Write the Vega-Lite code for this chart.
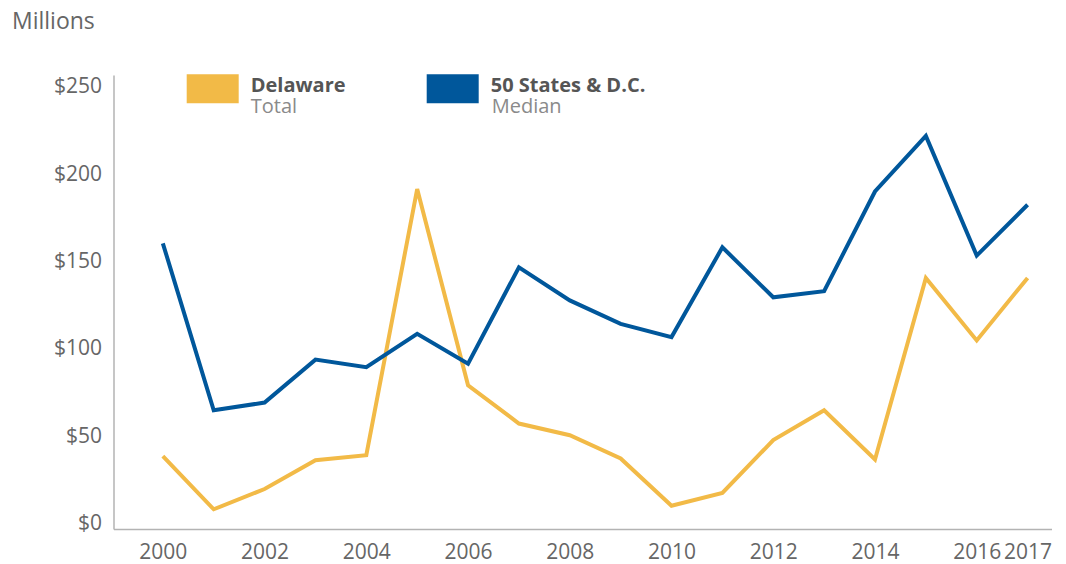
{
  "$schema": "https://vega.github.io/schema/vega-lite/v6.json",
  "width": 938,
  "height": 454,
  "autosize": "none",
  "padding": {"left": 113.5, "top": 75, "right": 14.5, "bottom": 35},
  "background": "white",
  "config": {
    "view": {"stroke": null},
    "font": "Open Sans",
    "axis": {
      "domainColor": "#b3b3b3",
      "domainWidth": 1.5,
      "labelColor": "#666666",
      "labelFont": "Open Sans",
      "labelFontSize": 21,
      "ticks": false,
      "tickSize": 0,
      "grid": false,
      "labelFlush": false,
      "labelOverlap": false
    }
  },
  "data": {
    "values": [
      {"year": 2000, "series": "Delaware", "sub": "Total", "value": 41.7},
      {"year": 2001, "series": "Delaware", "sub": "Total", "value": 11.3},
      {"year": 2002, "series": "Delaware", "sub": "Total", "value": 22.9},
      {"year": 2003, "series": "Delaware", "sub": "Total", "value": 39.4},
      {"year": 2004, "series": "Delaware", "sub": "Total", "value": 42.3},
      {"year": 2005, "series": "Delaware", "sub": "Total", "value": 194.7},
      {"year": 2006, "series": "Delaware", "sub": "Total", "value": 82.3},
      {"year": 2007, "series": "Delaware", "sub": "Total", "value": 60.4},
      {"year": 2008, "series": "Delaware", "sub": "Total", "value": 53.7},
      {"year": 2009, "series": "Delaware", "sub": "Total", "value": 40.4},
      {"year": 2010, "series": "Delaware", "sub": "Total", "value": 13.3},
      {"year": 2011, "series": "Delaware", "sub": "Total", "value": 20.7},
      {"year": 2012, "series": "Delaware", "sub": "Total", "value": 50.9},
      {"year": 2013, "series": "Delaware", "sub": "Total", "value": 68.0},
      {"year": 2014, "series": "Delaware", "sub": "Total", "value": 39.8},
      {"year": 2015, "series": "Delaware", "sub": "Total", "value": 143.8},
      {"year": 2016, "series": "Delaware", "sub": "Total", "value": 108.0},
      {"year": 2017, "series": "Delaware", "sub": "Total", "value": 143.8},
      {"year": 2000, "series": "50 States & D.C.", "sub": "Median", "value": 163.6},
      {"year": 2001, "series": "50 States & D.C.", "sub": "Median", "value": 68.0},
      {"year": 2002, "series": "50 States & D.C.", "sub": "Median", "value": 72.4},
      {"year": 2003, "series": "50 States & D.C.", "sub": "Median", "value": 97.0},
      {"year": 2004, "series": "50 States & D.C.", "sub": "Median", "value": 92.7},
      {"year": 2005, "series": "50 States & D.C.", "sub": "Median", "value": 111.8},
      {"year": 2006, "series": "50 States & D.C.", "sub": "Median", "value": 94.7},
      {"year": 2007, "series": "50 States & D.C.", "sub": "Median", "value": 149.9},
      {"year": 2008, "series": "50 States & D.C.", "sub": "Median", "value": 130.9},
      {"year": 2009, "series": "50 States & D.C.", "sub": "Median", "value": 117.5},
      {"year": 2010, "series": "50 States & D.C.", "sub": "Median", "value": 109.9},
      {"year": 2011, "series": "50 States & D.C.", "sub": "Median", "value": 161.3},
      {"year": 2012, "series": "50 States & D.C.", "sub": "Median", "value": 132.7},
      {"year": 2013, "series": "50 States & D.C.", "sub": "Median", "value": 136.2},
      {"year": 2014, "series": "50 States & D.C.", "sub": "Median", "value": 193.3},
      {"year": 2015, "series": "50 States & D.C.", "sub": "Median", "value": 225.1},
      {"year": 2016, "series": "50 States & D.C.", "sub": "Median", "value": 156.6},
      {"year": 2017, "series": "50 States & D.C.", "sub": "Median", "value": 185.7}
    ]
  },
  "mark": {"type": "line", "strokeJoin": "miter"},
  "encoding": {
    "x": {
      "field": "year",
      "type": "quantitative",
      "scale": {"domain": [1999.03, 2017.47], "nice": false, "zero": false},
      "axis": {
        "title": null,
        "values": [2000, 2002, 2004, 2006, 2008, 2010, 2012, 2014, 2016, 2017],
        "format": "d",
        "labelPadding": 12
      }
    },
    "y": {
      "field": "value",
      "type": "quantitative",
      "scale": {"domain": [0, 260], "nice": false},
      "axis": {
        "title": "Millions",
        "titleAngle": 0,
        "titleAlign": "left",
        "titleBaseline": "alphabetic",
        "titleX": -102,
        "titleY": -47,
        "titleFont": "Open Sans",
        "titleFontSize": 23,
        "titleFontWeight": "normal",
        "titleColor": "#666666",
        "values": [0, 50, 100, 150, 200, 250],
        "labelExpr": "'$' + datum.label",
        "labelPadding": 12,
        "labelOffset": -5.5
      }
    },
    "color": {
      "field": "series",
      "type": "nominal",
      "scale": {"domain": ["Delaware", "50 States & D.C."], "range": ["#F2BA47", "#00579B"]},
      "legend": {
        "title": null,
        "orient": "none",
        "direction": "horizontal",
        "legendX": 58.7,
        "legendY": -23.8,
        "padding": 0,
        "symbolType": "M-1,-0.13H1",
        "symbolSize": 2704,
        "symbolStrokeWidth": 29,
        "labelFont": "Open Sans",
        "labelFontSize": 20,
        "labelFontWeight": "bold",
        "labelColor": "#555555",
        "labelBaseline": "alphabetic",
        "labelOffset": -2.5,
        "columnPadding": 22
      }
    },
    "opacity": {
      "field": "sub",
      "type": "nominal",
      "scale": {"domain": ["Total", "Median"], "range": [1, 1]},
      "legend": {
        "title": null,
        "orient": "none",
        "direction": "horizontal",
        "legendX": 58.7,
        "legendY": -2.8,
        "padding": 0,
        "symbolType": "M-1,-0.13H1",
        "symbolSize": 2704,
        "symbolStrokeWidth": 29,
        "symbolStrokeColor": "transparent",
        "symbolFillColor": "transparent",
        "labelFont": "Open Sans",
        "labelFontSize": 20,
        "labelFontWeight": "normal",
        "labelColor": "#8a8a8a",
        "labelBaseline": "alphabetic",
        "labelOffset": -2.5,
        "columnPadding": 72
      }
    },
    "strokeWidth": {"value": 4}
  }
}
